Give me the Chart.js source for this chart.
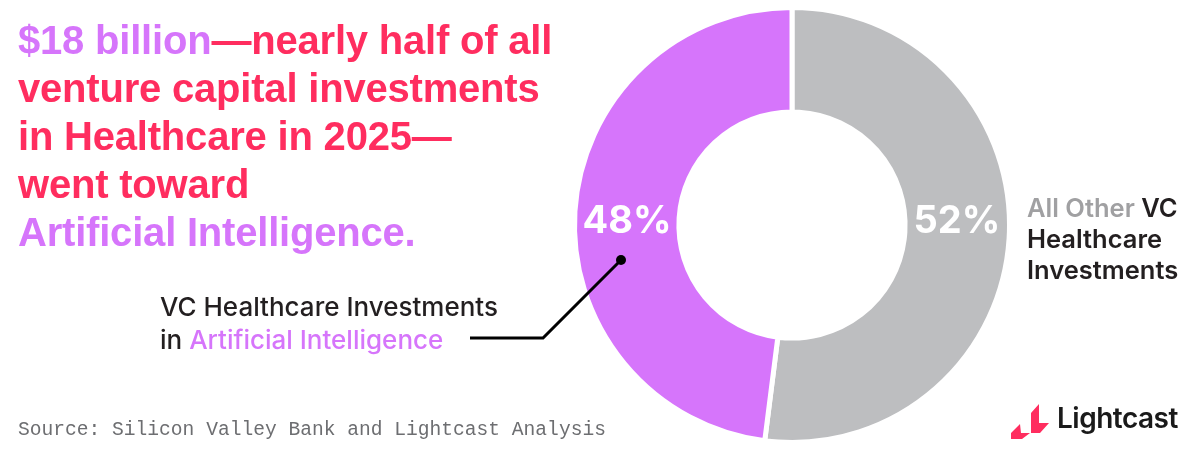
<!DOCTYPE html>
<html lang="en">
<head>
    <meta charset="UTF-8">
    <title>VC Healthcare Investments in Artificial Intelligence</title>
    <style>
        body {
            margin: 0;
            width: 1200px;
            height: 453px;
            background-color: #ffffff;
            position: relative;
            overflow: hidden;
            font-family: Inter, "Liberation Sans", sans-serif;
        }
        .title {
            position: absolute;
            left: 18px;
            top: 16px;
            margin: 0;
            font: bold 40px/48px "Liberation Sans", Arial, sans-serif;
            color: #ff2d5f;
            letter-spacing: -0.2px;
        }
        .purple {
            color: #d675fb;
        }
        .callout {
            position: absolute;
            left: 160px;
            top: 290px;
            font: 500 26px/33px Inter, sans-serif;
            color: #231f20;
        }
        .side {
            position: absolute;
            left: 1027px;
            top: 192px;
            font: 600 25.5px/31px Inter, sans-serif;
            color: #231f20;
        }
        .side .grey {
            color: #a0a0a2;
        }
        .source {
            position: absolute;
            left: 18px;
            top: 419px;
            font: 19.6px "Liberation Mono", monospace;
            color: #6d6e71;
        }
        .logo {
            position: absolute;
            left: 1057px;
            top: 401px;
            font: 600 28px Inter, sans-serif;
            color: #1a1a1a;
            letter-spacing: -0.5px;
        }
        #chartBox {
            position: absolute;
            left: 0;
            top: 0;
            width: 1200px;
            height: 453px;
        }
        #logoIcon {
            position: absolute;
            left: 1005px;
            top: 400px;
        }
    </style>
</head>
<body>
    <div id="chartBox"><canvas id="myChart"></canvas></div>

    <h1 class="title"><span class="purple">$18 billion</span>—nearly half of all<br>
        venture capital investments<br>
        in Healthcare in 2025—<br>
        went toward<br>
        <span class="purple">Artificial Intelligence.</span></h1>

    <div class="callout">VC Healthcare Investments<br>in <span class="purple">Artificial Intelligence</span></div>
    <div class="side"><span class="grey">All Other</span> VC<br>Healthcare<br>Investments</div>
    <div class="source">Source: Silicon Valley Bank and Lightcast Analysis</div>

    <svg id="logoIcon" width="50" height="42" viewBox="0 0 50 42">
        <polygon fill="#ff2d5f" points="26,13 34,4 34,23 44,23 35,33 26,33"/>
        <polygon fill="#ff2d5f" points="6,33 15,24 16,33 25,33 17,39 6,39"/>
    </svg>
    <div class="logo">Lightcast</div>

    <script src="https://cdn.jsdelivr.net/npm/chart.js"></script>
    <script>
        const categories = ['All Other VC Healthcare Investments', 'VC Healthcare Investments in Artificial Intelligence'];
        const shares = [52, 48];
        const sliceColors = ['#bdbec0', '#d675fb'];

        // percent labels in the ring + the callout leader line
        const ringLabels = {
            id: 'ringLabels',
            afterDatasetsDraw(chart) {
                const ctx = chart.ctx;
                const arcs = chart.getDatasetMeta(0).data;
                ctx.save();
                ctx.fillStyle = '#ffffff';
                ctx.font = 'bold 38px Inter, sans-serif';
                ctx.textAlign = 'center';
                ctx.textBaseline = 'middle';
                arcs.forEach((arc, i) => {
                    const p = arc.getProps(['x', 'y', 'startAngle', 'endAngle', 'innerRadius', 'outerRadius'], true);
                    const mid = (p.startAngle + p.endAngle) / 2;
                    const r = (p.innerRadius + p.outerRadius) / 2;
                    ctx.fillText(shares[i] + '%', p.x + Math.cos(mid) * r, p.y - 3);
                });

                const c = arcs[1].getProps(['x', 'y'], true);
                const dot = { x: c.x - 171, y: c.y + 35 };
                ctx.strokeStyle = '#000000';
                ctx.lineWidth = 3;
                ctx.beginPath();
                ctx.moveTo(dot.x, dot.y);
                ctx.lineTo(c.x - 249, c.y + 113);
                ctx.lineTo(c.x - 322, c.y + 113);
                ctx.stroke();
                ctx.fillStyle = '#000000';
                ctx.beginPath();
                ctx.arc(dot.x, dot.y, 5, 0, Math.PI * 2);
                ctx.fill();
                ctx.restore();
            }
        };

        const ctx = document.getElementById('myChart').getContext('2d');
        new Chart(ctx, {
            type: 'doughnut',
            data: {
                labels: categories,
                datasets: [{
                    data: shares,
                    backgroundColor: sliceColors,
                    borderColor: '#ffffff',
                    borderWidth: 5
                }]
            },
            options: {
                responsive: true,
                maintainAspectRatio: false,
                animation: false,
                cutout: '52%',
                layout: { padding: { left: 572, right: 188, top: 5, bottom: 8 } },
                plugins: {
                    legend: { display: false },
                    tooltip: { enabled: false }
                }
            },
            plugins: [ringLabels]
        });
    </script>
</body>
</html>
